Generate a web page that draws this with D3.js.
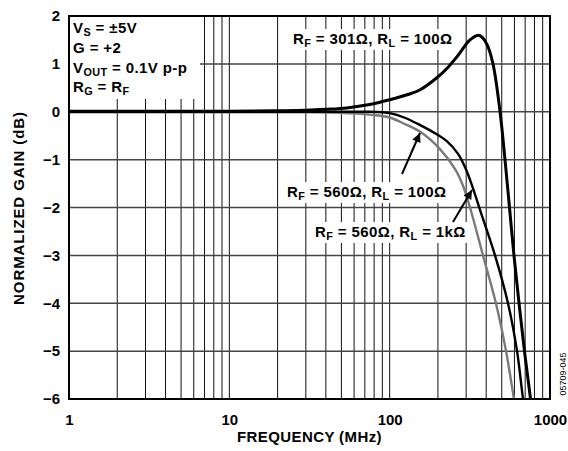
<!DOCTYPE html>
<html>
<head>
<meta charset="utf-8">
<script src="https://cdn.jsdelivr.net/npm/d3@7"></script>
<style>
  body { margin: 0; background: #fff; }
  svg { font-family: "Liberation Sans", Arial, sans-serif; font-weight: bold; }
</style>
</head>
<body>
<svg id="chart" width="568" height="451"></svg>
<script>
// axis ticks
var freqTicks = [1, 10, 100, 1000];
var gainTicks = [2, 1, 0, -1, -2, -3, -4, -5, -6];

// RF = 301 ohm, RL = 100 ohm (peaking curve)
var freq301 = [1, 10, 20, 30, 40, 54, 75, 100, 130, 155, 197, 230, 263, 317, 356, 377, 405, 441, 488, 524, 559, 596, 641, 693, 756, 818];
var gain301 = [0.01, 0.01, 0.02, 0.03, 0.05, 0.08, 0.15, 0.25, 0.36, 0.46, 0.71, 0.92, 1.15, 1.5, 1.6, 1.56, 1.4, 1.0, 0, -1, -2, -3, -4, -5, -6, -7];

// RF = 560 ohm, RL = 100 ohm (grey)
var freqGrey = [1, 10, 30, 49, 75, 100, 123, 155, 206, 256, 287, 317, 382, 460, 532, 596, 669];
var gainGrey = [-0.01, -0.01, -0.01, -0.02, -0.06, -0.12, -0.25, -0.42, -0.78, -1.2, -1.55, -2.0, -3.0, -4.0, -5.0, -6.0, -7.0];

// RF = 560 ohm, RL = 1k ohm (black)
var freqBlack = [1, 10, 30, 50, 75, 90, 100, 123, 155, 192, 228, 267, 299, 331, 366, 454, 547, 623, 679, 750];
var gainBlack = [0, 0, 0, 0, 0, -0.01, -0.03, -0.12, -0.28, -0.45, -0.62, -0.88, -1.2, -1.6, -2.05, -3.0, -4.0, -5.0, -6.0, -7.0];

var pLeft = 69, pRight = 550, pTop = 16, pBottom = 399;

var svg = d3.select("#chart");

var x = d3.scaleLog().domain([1, 1000]).range([pLeft, pRight]);
var y = d3.scaleLinear().domain([-6, 2]).range([pBottom, pTop]);

svg.append("clipPath").attr("id", "plotclip")
    .append("rect")
    .attr("x", pLeft).attr("y", pTop)
    .attr("width", pRight - pLeft).attr("height", pBottom - pTop);

// grid
var grid = svg.append("g");
grid.selectAll("line.v")
    .data(x.ticks().filter(function(d) { return d > 1 && d < 1000; }))
    .enter().append("line")
    .attr("class", "v")
    .attr("x1", function(d) { return x(d); })
    .attr("x2", function(d) { return x(d); })
    .attr("y1", pTop).attr("y2", pBottom)
    .attr("stroke", "#111").attr("stroke-width", 1);
grid.selectAll("line.h")
    .data(gainTicks.filter(function(d) { return d > -6 && d < 2; }))
    .enter().append("line")
    .attr("class", "h")
    .attr("x1", pLeft).attr("x2", pRight)
    .attr("y1", function(d) { return y(d); })
    .attr("y2", function(d) { return y(d); })
    .attr("stroke", "#444").attr("stroke-width", 1.5);

var bgLayer = svg.append("g");
var curveLayer = svg.append("g").attr("clip-path", "url(#plotclip)");
var textLayer = svg.append("g");

function drawCurve(fs, gs, color, w) {
    var pts = fs.map(function(f, i) { return [f, gs[i]]; });
    curveLayer.append("path")
        .datum(pts)
        .attr("fill", "none")
        .attr("stroke", color)
        .attr("stroke-width", w)
        .attr("stroke-linejoin", "round")
        .attr("d", d3.line()
            .x(function(d) { return x(d[0]); })
            .y(function(d) { return y(d[1]); })
            .curve(d3.curveCatmullRom.alpha(0.5)));
}
drawCurve(freqGrey, gainGrey, "#7a7a7a", 2.4);
drawCurve(freqBlack, gainBlack, "#000", 2.4);
drawCurve(freq301, gain301, "#000", 3);

var fs = 15;
var ls = "0.4px";

// label with subscripts: parts are [text, isSub]
function label(px, py, parts, size) {
    var t = textLayer.append("text")
        .attr("x", px).attr("y", py)
        .style("font-size", size + "px")
        .style("letter-spacing", ls);
    var sub = false;
    parts.forEach(function(p) {
        var ts = t.append("tspan").text(p[0]);
        if (p[1] && !sub) { ts.attr("dy", 3).style("font-size", (size * 0.72) + "px"); sub = true; }
        else if (p[1]) { ts.style("font-size", (size * 0.72) + "px"); }
        else if (!p[1] && sub) { ts.attr("dy", -3); sub = false; }
    });
    return t;
}
function whiteBehind(t, pad) {
    var b = t.node().getBBox();
    bgLayer.append("rect")
        .attr("x", b.x - pad).attr("y", b.y - 1)
        .attr("width", b.width + pad * 2).attr("height", b.height + 2)
        .attr("fill", "#fff");
}

var cond = [
    [["V"], ["S", 1], [" = \u00b15V"]],
    [["G = +2"]],
    [["V"], ["OUT", 1], [" = 0.1V p-p"]],
    [["R"], ["G", 1], [" = R"], ["F", 1]]
];
var condY = [33, 53, 73, 92];
cond.forEach(function(c, i) { label(73, condY[i], c, fs); });
bgLayer.append("rect").attr("x", pLeft).attr("y", pTop).attr("width", 131).attr("height", 83).attr("fill", "#fff");

var l1 = label(293, 44, [["R"], ["F", 1], [" = 301\u03a9, R"], ["L", 1], [" = 100\u03a9"]], fs);
whiteBehind(l1, 4);
var l2 = label(287, 197, [["R"], ["F", 1], [" = 560\u03a9, R"], ["L", 1], [" = 100\u03a9"]], fs);
whiteBehind(l2, 4);
var l3 = label(315, 237, [["R"], ["F", 1], [" = 560\u03a9, R"], ["L", 1], [" = 1k\u03a9"]], fs);
whiteBehind(l3, 4);

// arrows
svg.append("defs").append("marker")
    .attr("id", "head").attr("viewBox", "0 0 10 10")
    .attr("refX", 10).attr("refY", 5)
    .attr("markerWidth", 12).attr("markerHeight", 9)
    .attr("markerUnits", "userSpaceOnUse")
    .attr("orient", "auto")
    .append("path").attr("d", "M0,0L10,5L0,10Z").attr("fill", "#000");
var arrows = [[402, 174, 420, 133], [453, 222, 472, 190]];
arrows.forEach(function(a) {
    textLayer.append("line")
        .attr("x1", a[0]).attr("y1", a[1]).attr("x2", a[2]).attr("y2", a[3])
        .attr("stroke", "#000").attr("stroke-width", 2)
        .attr("marker-end", "url(#head)");
});

// border
svg.append("rect")
    .attr("x", pLeft).attr("y", pTop)
    .attr("width", pRight - pLeft).attr("height", pBottom - pTop)
    .attr("fill", "none").attr("stroke", "#000").attr("stroke-width", 2);

// axes
var xAxis = d3.axisBottom(x).tickValues(freqTicks).tickSize(0).tickPadding(15).tickFormat(d3.format("d"));
var gx = svg.append("g").attr("transform", "translate(0," + pBottom + ")").call(xAxis);
gx.select(".domain").remove();
gx.selectAll("text").style("font-size", fs + "px").style("font-family", null).attr("fill", "#000");

var yAxis = d3.axisLeft(y).tickValues(gainTicks).tickSize(0).tickPadding(9).tickFormat(d3.format("d"));
var gy = svg.append("g").attr("transform", "translate(" + pLeft + ",0)").call(yAxis);
gy.select(".domain").remove();
gy.selectAll("text").style("font-size", fs + "px").style("font-family", null).attr("fill", "#000");

svg.append("text")
    .attr("x", (pLeft + pRight) / 2).attr("y", 442)
    .attr("text-anchor", "middle")
    .style("font-size", fs + "px").style("letter-spacing", ls)
    .text("FREQUENCY (MHz)");

svg.append("text")
    .attr("transform", "translate(24,208) rotate(-90)")
    .attr("text-anchor", "middle")
    .style("font-size", fs + "px").style("letter-spacing", "0.9px")
    .text("NORMALIZED GAIN (dB)");

svg.append("text")
    .attr("transform", "translate(566,374) rotate(-90)")
    .attr("text-anchor", "middle")
    .style("font-size", "9px").style("font-weight", "normal")
    .text("05709-045");
</script>
</body>
</html>
